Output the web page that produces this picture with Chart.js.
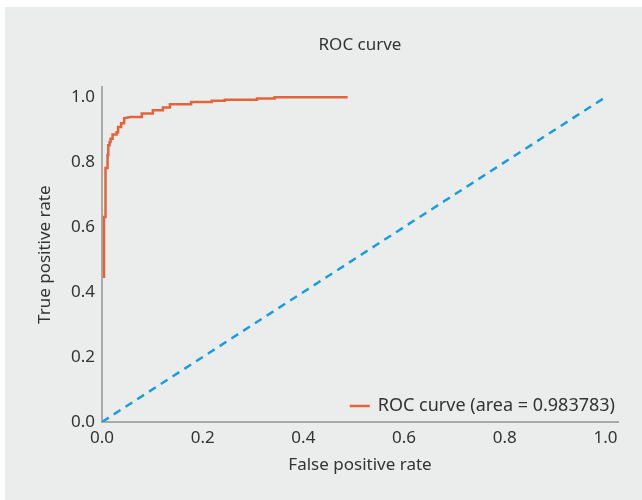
<!DOCTYPE html>
<html>
<head>
<meta charset="utf-8">
<script src="https://cdn.jsdelivr.net/npm/chart.js@4/dist/chart.umd.min.js"></script>
<style>
  html, body { margin: 0; padding: 0; background: #fff; }
  #panel { position: absolute; left: 5px; top: 7px; width: 637px; height: 493px; background: #ebecec; }
</style>
</head>
<body>
<div id="panel"><canvas id="rocChart" width="637" height="493"></canvas></div>
<script>
// ROC curve vertices
var fprValues = [0.004, 0.004, 0.007, 0.007, 0.011, 0.011, 0.0125, 0.0125, 0.015, 0.015, 0.017, 0.017,
  0.021, 0.021, 0.029, 0.029, 0.032, 0.032, 0.038, 0.038, 0.044, 0.044, 0.056, 0.079, 0.079,
  0.101, 0.101, 0.121, 0.121, 0.135, 0.135, 0.177, 0.177, 0.218, 0.218, 0.244, 0.244, 0.308,
  0.308, 0.343, 0.343, 0.488];
var tprValues = [0.443, 0.631, 0.631, 0.782, 0.782, 0.822, 0.822, 0.852, 0.852, 0.862, 0.862, 0.872,
  0.872, 0.885, 0.885, 0.892, 0.892, 0.908, 0.908, 0.920, 0.920, 0.935, 0.939, 0.939, 0.950,
  0.950, 0.960, 0.960, 0.968, 0.968, 0.978, 0.978, 0.985, 0.985, 0.989, 0.989, 0.992, 0.992,
  0.996, 0.996, 1.0, 1.0];

// chance line
var diagX = [0, 1];
var diagY = [0, 1];

var tickValues = [0, 0.2, 0.4, 0.6, 0.8, 1.0];
var curveLabel = "ROC curve (area = 0.983783)";

var fontFamily = "'Noto Sans', sans-serif";
var textColor = "#333333";

function toPoints(xs, ys) {
  return xs.map(function (x, i) { return { x: x, y: ys[i] }; });
}

function fixedTicks(scale) {
  scale.ticks = tickValues.map(function (v) { return { value: v }; });
}

// little legend in the lower right of the plot
var cornerLegend = {
  id: "cornerLegend",
  afterDraw: function (chart) {
    var ctx = chart.ctx;
    var area = chart.chartArea;
    ctx.save();
    ctx.font = "18px " + fontFamily;
    ctx.fillStyle = textColor;
    ctx.textBaseline = "middle";
    ctx.textAlign = "right";
    var y = area.bottom - 16;
    var right = area.right - 3;
    var w = ctx.measureText(curveLabel).width;
    ctx.fillText(curveLabel, right, y);
    ctx.strokeStyle = "#e4643a";
    ctx.lineWidth = 2.5;
    ctx.beginPath();
    ctx.moveTo(right - w - 28, y);
    ctx.lineTo(right - w - 8, y);
    ctx.stroke();
    ctx.restore();
  }
};

new Chart("rocChart", {
  type: "scatter",
  data: {
    datasets: [{
      label: curveLabel,
      data: toPoints(fprValues, tprValues),
      showLine: true,
      borderColor: "#e4643a",
      backgroundColor: "#e4643a",
      borderWidth: 2.5,
      pointRadius: 0,
      tension: 0
    }, {
      label: "chance",
      data: toPoints(diagX, diagY),
      showLine: true,
      borderColor: "#1b9ddb",
      borderWidth: 2.5,
      borderDash: [8, 6],
      pointRadius: 0
    }]
  },
  options: {
    responsive: false,
    animation: false,
    devicePixelRatio: 1,
    layout: { padding: { left: 0, right: 24, top: 0, bottom: 0 } },
    plugins: {
      legend: { display: false },
      tooltip: { enabled: false },
      title: {
        display: true,
        text: "ROC curve",
        fullSize: false,
        color: textColor,
        font: { family: fontFamily, size: 17, weight: "normal" },
        padding: { top: 28, bottom: 32 }
      }
    },
    scales: {
      x: {
        type: "linear",
        min: 0,
        max: 1.025,
        afterBuildTicks: fixedTicks,
        afterFit: function (scale) { scale.height = 78; },
        grid: { display: false, drawTicks: false },
        border: { display: true, color: "#aaaaaa", width: 2 },
        ticks: {
          color: textColor,
          padding: 6,
          font: { family: fontFamily, size: 17 },
          callback: function (v) { return v.toFixed(1); }
        },
        title: {
          display: true,
          text: "False positive rate",
          color: textColor,
          font: { family: fontFamily, size: 17 },
          padding: { top: 0, bottom: 25 }
        }
      },
      y: {
        type: "linear",
        min: 0,
        max: 1.03,
        afterBuildTicks: fixedTicks,
        afterFit: function (scale) { scale.width = 97; },
        grid: { display: false, drawTicks: false },
        border: { display: true, color: "#aaaaaa", width: 2 },
        ticks: {
          color: textColor,
          padding: 7,
          font: { family: fontFamily, size: 17 },
          callback: function (v) { return v.toFixed(1); }
        },
        title: {
          display: true,
          text: "True positive rate",
          color: textColor,
          font: { family: fontFamily, size: 17 },
          padding: { top: 30, bottom: 0 }
        }
      }
    }
  },
  plugins: [cornerLegend]
});
</script>
</body>
</html>
